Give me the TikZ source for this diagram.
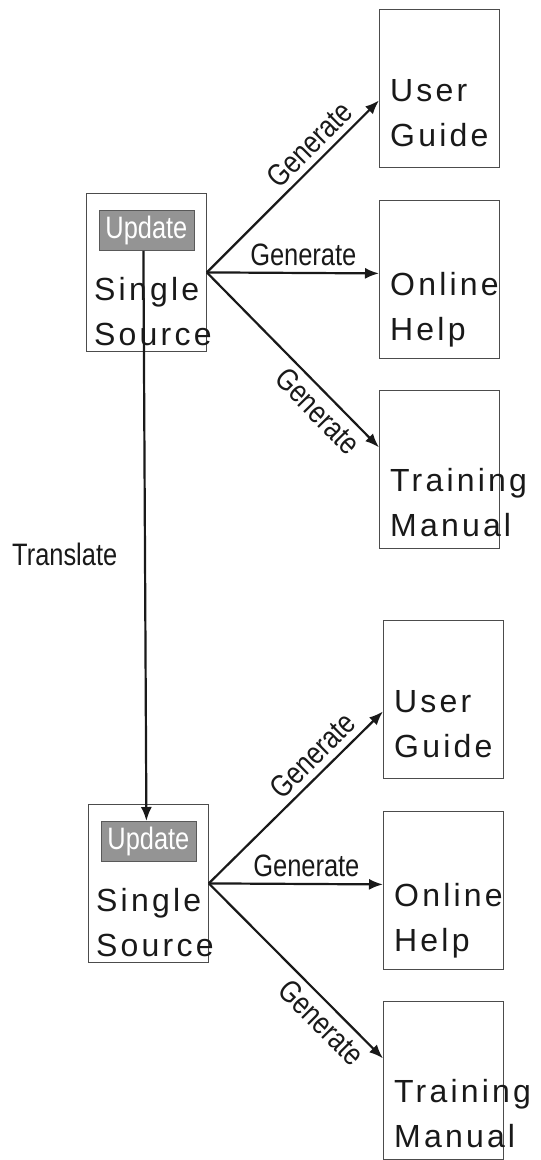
\documentclass[tikz,border=0pt]{standalone}
\usepackage{fontspec}
\usepackage{xcolor}
\usetikzlibrary{arrows.meta}
\newfontfamily\boxfont[LetterSpace=10]{Liberation Sans}
\newfontfamily\narrowfont[FakeStretch=0.82]{Liberation Sans}

\begin{document}
\begin{tikzpicture}[x=1pt, y=-1pt,
	doc/.style={draw=black!70, line width=0.8pt, minimum width=120pt, minimum height=158pt, inner sep=0pt},
	doctext/.style={font=\boxfont\fontsize{32}{45}\selectfont, align=left, anchor=base west, inner sep=0pt, text=black!90},
	updbox/.style={draw=black!65, line width=0.8pt, fill=black!42, text=white, font=\narrowfont\fontsize{31}{31}\selectfont, minimum width=95pt, minimum height=40pt, inner sep=0pt},
	gen/.style={line width=2.2pt, black!90, -{Latex[length=14pt,width=11pt]}},
	genlabel/.style={font=\narrowfont\fontsize{31}{31}\selectfont, sloped, inner sep=6pt, text=black!90}]
	\useasboundingbox (0,0) rectangle (541,1160);
	\foreach \s/\dx/\dy in {a/0/0, b/2/611} {
		% source document with its update box
		\node[doc, anchor=north west] (src\s) at (86+\dx, 193+\dy) {};
		\node[updbox, anchor=north] (upd\s) at ([yshift=-17pt]src\s.north) {Update};
		\node[doctext] (srctxt\s) at ([xshift=8pt, yshift=-152pt]src\s.north west) {Single\\Source};
		
		% the three generated documents
		\foreach \k/\y/\txt/\ys/\tb/\p/\side in {ug/9/{User\\Guide}/-12/137/.67/above, oh/200/{Online\\Help}/6/140/.56/above, tm/390/{Training\\Manual}/22/146/.72/below} {
			\node[doc, anchor=north west] (\k\s) at (379+2*\dx, \y+\dy) {};
			\node[doctext] (\k txt\s) at ([xshift=11pt, yshift=-\tb pt]\k\s.north west) {\txt};
			\draw[gen] (src\s.east) -- ([yshift=\ys pt]\k\s.west) node[genlabel, pos=\p, \side] {Generate};
		}
	}
	% translation between the two sources
	\draw[gen] ([xshift=-3pt]upda.south) -- ([xshift=-2pt]updb.north);
	\node[font=\narrowfont\fontsize{31}{31}\selectfont, anchor=base west, inner sep=0pt, text=black!90] (trans) at (12,565) {Translate};
\end{tikzpicture}
\end{document}
